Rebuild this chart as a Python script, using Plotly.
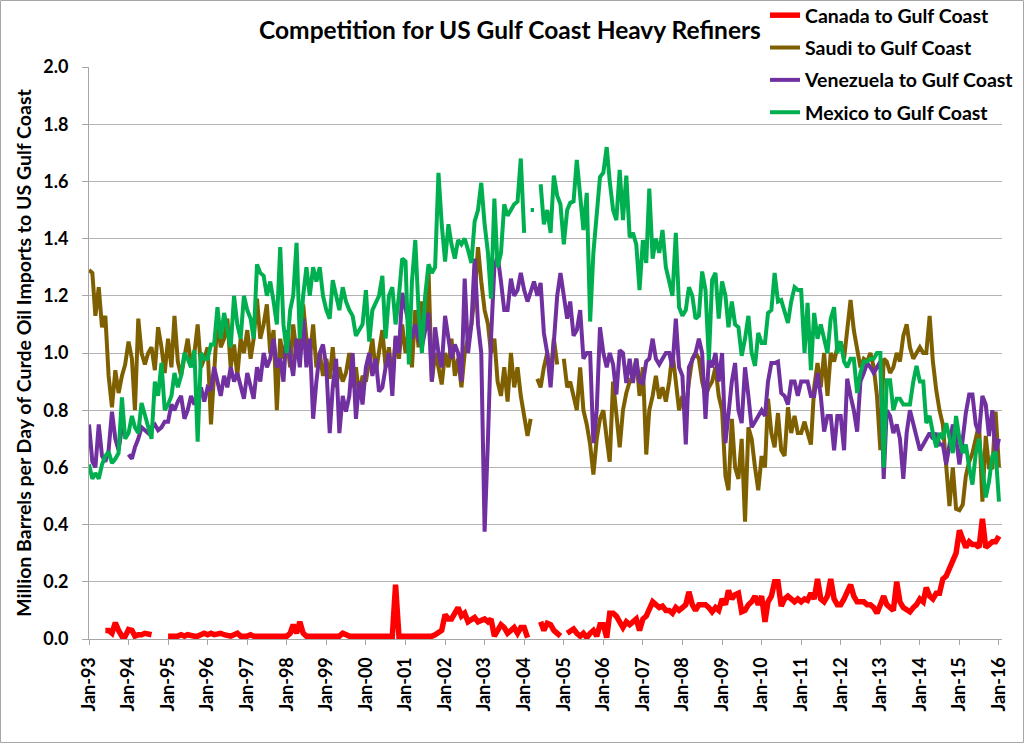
import pandas as pd
import plotly.graph_objects as go

# ---------------- data (million barrels per day, monthly Jan-93 .. Jan-16) ----------------
months = pd.date_range("1993-01-01", "2016-01-01", freq="MS")
tick_dates = pd.date_range("1993-01-01", "2016-01-01", freq="YS")
tick_labels = ["Jan-93", "Jan-94", "Jan-95", "Jan-96", "Jan-97", "Jan-98", "Jan-99", "Jan-00",
               "Jan-01", "Jan-02", "Jan-03", "Jan-04", "Jan-05", "Jan-06", "Jan-07", "Jan-08",
               "Jan-09", "Jan-10", "Jan-11", "Jan-12", "Jan-13", "Jan-14", "Jan-15", "Jan-16"]

N = None
canada = [
    N, N, N, N, N, 0.03, 0.03, 0.02, 0.057, 0.03, 0.01, 0.01,                 # 1993
    0.033, 0.03, 0.01, 0.015, 0.015, 0.02, 0.015, 0.015, N, N, N, N,         # 1994
    0.01, 0.01, 0.01, 0.01, 0.015, 0.01, 0.015, 0.01, 0.01, 0.01, 0.015, 0.02,  # 1995
    0.015, 0.02, 0.015, 0.02, 0.02, 0.015, 0.01, 0.01, 0.015, 0.02, 0.01, 0.01,  # 1996
    0.01, 0.015, 0.01, 0.01, 0.01, 0.01, 0.01, 0.01, 0.01, 0.01, 0.01, 0.01,  # 1997
    0.01, 0.02, 0.05, 0.02, 0.06, 0.02, 0.01, 0.01, 0.01, 0.01, 0.01, 0.01,   # 1998
    0.01, 0.01, 0.01, 0.01, 0.01, 0.02, 0.015, 0.01, 0.01, 0.01, 0.01, 0.01,  # 1999
    0.01, 0.01, 0.01, 0.01, 0.01, 0.01, 0.01, 0.01, 0.01, 0.19, 0.01, 0.01,   # 2000
    0.01, 0.01, 0.01, 0.01, 0.01, 0.01, 0.01, 0.01, 0.01, 0.015, 0.02, 0.03,  # 2001
    0.085, 0.07, 0.07, 0.09, 0.11, 0.08, 0.09, 0.06, 0.07, 0.075, 0.06, 0.065,  # 2002
    0.07, 0.06, 0.07, 0.01, 0.03, 0.05, 0.04, 0.02, 0.03, 0.04, 0.02, 0.04,   # 2003
    0.04, 0.005, N, N, N, 0.06, 0.03, 0.055, 0.05, 0.03, 0.02, 0.01,          # 2004
    N, 0.02, 0.03, 0.035, 0.02, 0.01, 0.02, 0.005, 0.02, 0.03, 0.01, 0.05,    # 2005
    0.05, 0.005, 0.09, 0.09, 0.08, 0.06, 0.04, 0.06, 0.05, 0.06, 0.07, 0.03,  # 2006
    0.07, 0.08, 0.11, 0.13, 0.12, 0.11, 0.115, 0.10, 0.10, 0.09, 0.11, 0.10,  # 2007
    0.11, 0.12, 0.165, 0.12, 0.10, 0.12, 0.12, 0.12, 0.11, 0.095, 0.11, 0.10,  # 2008
    0.14, 0.12, 0.17, 0.14, 0.155, 0.16, 0.095, 0.10, 0.12, 0.13, 0.15, 0.12,  # 2009
    0.15, 0.06, 0.13, 0.15, 0.20, 0.20, 0.115, 0.14, 0.15, 0.14, 0.13, 0.14,  # 2010
    0.13, 0.14, 0.135, 0.16, 0.14, 0.21, 0.14, 0.13, 0.15, 0.21, 0.14, 0.12,  # 2011
    0.12, 0.14, 0.16, 0.19, 0.15, 0.13, 0.13, 0.13, 0.12, 0.12, 0.11, 0.09,   # 2012
    0.12, 0.15, 0.12, 0.11, 0.10, 0.20, 0.13, 0.11, 0.10, 0.095, 0.11, 0.12,  # 2013
    0.14, 0.13, 0.18, 0.15, 0.14, 0.16, 0.16, 0.21, 0.22, 0.25, 0.27, 0.30,   # 2014
    0.38, 0.34, 0.32, 0.34, 0.33, 0.33, 0.32, 0.42, 0.32, 0.33, 0.34, 0.34,   # 2015
    0.36,                                                                      # 2016
]

saudi = [
    1.29, 1.28, 1.13, 1.23, 1.09, 1.13, 0.92, 0.81, 0.94, 0.86, 0.92, 0.96,
    1.04, 0.98, 0.80, 1.12, 1.00, 0.96, 1.00, 1.02, 0.94, 1.09, 1.02, 0.93,
    1.05, 0.95, 1.13, 0.97, 0.92, 0.98, 1.05, 0.96, 1.00, 1.10, 0.95, 0.98,
    1.02, 0.75, 0.95, 1.12, 1.02, 1.05, 1.12, 0.95, 1.03, 0.92, 1.05, 1.00,
    1.08, 0.98, 1.05, 1.19, 1.05, 1.10, 1.17, 1.00, 1.08, 0.80, 1.05, 0.98,
    1.05, 0.95, 1.10, 1.00, 1.05, 1.17, 1.05, 0.98, 1.10, 0.95, 1.00, 0.92,
    0.98, 0.91, 1.02, 0.88, 0.95, 0.90, 0.93, 1.00, 0.88, 0.95, 0.85, 0.92,
    0.90, 0.98, 1.05, 0.93, 1.00, 1.08, 0.95, 1.02, 0.90, 1.05, 0.98, 1.10,
    1.00, 1.08, 0.95, 1.15, 1.02, 1.18, 1.10, 1.29, 0.90, 1.00, 0.95, 0.89,
    1.00, 0.95, 1.05, 0.92, 0.98, 0.88, 1.00, 1.05, 1.10, 1.20, 1.37, 1.25,
    1.15, 1.10, 1.00, 1.05, 0.90, 0.85, 0.95, 0.83, 1.00, 0.88, 0.95, 0.85,
    0.78, 0.71, 0.77, N, 0.91, 0.88, 0.95, 1.00, 0.92, 1.05, 0.96, N,
    0.98, 0.88, 0.90, 0.85, 0.80, 0.95, 0.80, 0.75, 0.68, 0.575, 0.70, 0.77,
    0.80, 0.70, 0.62, 0.90, 0.78, 0.67, 0.80, 0.86, 0.90, 0.92, 0.98, 0.85,
    0.95, 0.645, 0.80, 0.85, 0.92, 0.84, 0.88, 0.83, 0.90, 1.00, 0.90, 0.80,
    0.85, 0.80, 0.90, 0.98, 1.00, 0.98, 0.90, 0.85, 0.88, 0.90, 0.95, 0.85,
    0.80, 0.57, 0.52, 0.77, 0.60, 0.56, 0.70, 0.41, 0.74, 0.70, 0.60, 0.52,
    0.64, 0.60, 0.84, 0.72, 0.67, 0.79, 0.66, 0.64, 0.81, 0.72, 0.78, 0.72,
    0.72, 0.76, 0.72, 0.68, 0.88, 0.965, 0.88, 1.00, 0.85, 1.00, 0.97, 1.02,
    1.04, 0.98, 1.08, 1.185, 1.08, 1.02, 0.95, 0.98, 0.97, 1.00, 0.95, 0.85,
    0.66, 0.98, 0.97, 0.93, 0.95, 1.00, 0.97, 1.06, 1.10, 1.02, 0.98, 1.00,
    1.02, 1.00, 1.00, 1.13, 0.97, 0.87, 0.80, 0.75, 0.605, 0.465, 0.60, 0.455,
    0.45, 0.47, 0.57, 0.62, 0.65, 0.70, 0.75, 0.48, 0.71, 0.60, 0.60, 0.795,
    0.60,
]

venezuela = [
    0.75, 0.62, 0.60, 0.75, 0.64, 0.62, 0.66, 0.795, 0.70, 0.66, 0.74, N,
    0.645, 0.63, 0.67, 0.70, 0.74, 0.73, 0.72, 0.74, 0.75, 0.73, 0.74, 0.76,
    0.76, 0.82, 0.80, 0.83, 0.85, 0.77, 0.80, 0.85, 0.82, 0.85, 0.88, 0.83,
    0.88, 0.87, 0.95, 0.90, 0.85, 0.92, 0.88, 0.95, 0.90, 0.93, 0.88, 0.84,
    0.93, 0.88, 0.84, 0.95, 0.90, 1.00, 0.95, 0.98, 1.05, 0.95, 0.98, 0.90,
    1.08, 0.98, 0.92, 1.05, 0.95, 1.12, 0.95, 1.05, 0.77, 0.90, 1.00, 1.03,
    0.95, 0.72, 0.88, 0.98, 0.72, 0.85, 0.795, 0.85, 1.00, 0.77, 0.90, 0.82,
    0.95, 1.00, 0.92, 0.98, 0.865, 0.88, 0.95, 1.00, 0.85, 1.06, 1.00, 1.21,
    1.15, 1.10, 1.05, 1.10, 1.05, 1.02, 1.08, 1.14, 0.90, 1.09, 1.00, 0.95,
    1.13, 1.05, 0.98, 1.03, 1.00, 0.90, 1.26, 1.00, 1.10, 1.33, 1.10, 1.00,
    0.375, 0.70, 1.05, 1.30, 1.34, 1.25, 1.15, 1.15, 1.26, 1.20, 1.22, 1.28,
    1.22, 1.18, 1.22, 1.25, 1.20, 1.245, 1.07, 1.00, 0.88, 1.05, 1.20, 1.28,
    1.20, 1.12, 1.18, 1.06, 1.08, 1.15, 0.98, 1.00, 1.00, 0.685, 0.80, 1.09,
    1.00, 0.95, 1.00, 0.96, 0.855, 1.01, 1.00, 0.895, 0.98, 0.895, 0.98, 0.90,
    0.895, 0.97, 0.98, 1.05, 0.98, 0.96, 0.98, 1.00, 1.00, 0.95, 1.12, 0.95,
    0.92, 0.68, 0.95, 0.98, 1.00, 1.05, 1.00, 0.77, 0.98, 0.95, 1.00, 0.90,
    1.00, 0.685, 0.80, 0.90, 0.965, 0.80, 0.755, 0.95, 0.85, 0.74, 0.76, 0.78,
    0.80, 0.78, 0.90, 0.965, 0.965, 0.97, 0.86, 0.85, 0.82, 0.90, 0.90, 0.85,
    0.90, 0.90, 0.90, 0.85, 0.85, 0.93, 0.85, 0.725, 0.78, 0.78, 0.66, 0.78,
    0.78, 0.66, 0.91, 0.85, 0.80, 0.725, 0.90, 0.93, 0.965, 0.95, 0.93, 0.95,
    0.97, 0.56, 0.80, 0.78, 0.72, 0.75, 0.70, 0.56, 0.72, 0.80, 0.75, 0.70,
    0.66, 0.68, 0.70, 0.72, 0.70, 0.72, 0.68, 0.68, 0.61, 0.68, 0.75, 0.70,
    0.61, 0.70, 0.79, 0.855, 0.855, 0.75, 0.72, 0.85, 0.82, 0.71, 0.80, 0.65,
    0.70,
]

mexico = [
    0.61, 0.56, 0.58, 0.56, 0.61, 0.64, 0.655, 0.615, 0.63, 0.65, 0.845, 0.70,
    0.72, 0.78, 0.74, 0.72, 0.825, 0.78, 0.75, 0.70, 0.90, 0.85, 0.965, 0.80,
    0.82, 0.85, 0.93, 0.88, 0.92, 1.00, 0.98, 0.95, 1.01, 0.69, 1.00, 0.98,
    0.98, 1.03, 1.03, 1.16, 1.05, 1.14, 1.08, 1.02, 1.20, 1.10, 1.05, 1.20,
    1.15, 1.12, 1.05, 1.31, 1.28, 1.27, 1.20, 1.25, 1.18, 1.10, 1.37, 1.10,
    1.00, 1.15, 1.20, 1.385, 1.05, 1.20, 1.30, 1.20, 1.30, 1.25, 1.30, 1.20,
    1.15, 1.12, 1.255, 1.20, 1.15, 1.23, 1.18, 1.15, 1.13, 1.06, 1.08, 1.10,
    1.22, 1.04, 1.15, 1.18, 1.20, 1.27, 1.05, 1.20, 1.23, 1.10, 1.20, 1.33,
    1.32, 0.96, 1.25, 1.395, 1.15, 1.00, 1.20, 1.31, 1.28, 1.30, 1.63, 1.45,
    1.32, 1.45, 1.38, 1.33, 1.395, 1.38, 1.40, 1.36, 1.315, 1.46, 1.50, 1.595,
    1.45, 1.35, 1.19, 1.54, 1.30, 1.35, 1.52, 1.48, 1.50, 1.52, 1.53, 1.68,
    1.42, N, 1.50, 1.50, N, 1.59, 1.45, 1.50, 1.42, 1.62, 1.55, 1.52,
    1.38, 1.50, 1.525, 1.53, 1.675, 1.55, 1.43, 1.56, 1.11, 1.35, 1.50, 1.615,
    1.63, 1.72, 1.60, 1.50, 1.465, 1.64, 1.465, 1.62, 1.405, 1.42, 1.38, 1.22,
    1.395, 1.315, 1.575, 1.33, 1.40, 1.35, 1.43, 1.30, 1.25, 1.20, 1.42, 1.16,
    1.13, 1.15, 1.23, 1.20, 1.12, 1.13, 1.285, 1.22, 0.975, 1.255, 1.28, 1.12,
    1.25, 1.20, 1.09, 1.18, 1.10, 1.09, 0.99, 1.05, 1.13, 1.00, 0.955, 1.07,
    1.035, 1.035, 1.14, 1.15, 1.28, 1.18, 1.185, 1.15, 1.105, 1.18, 1.23, 1.22,
    1.22, 1.00, 1.175, 0.94, 1.14, 1.05, 1.10, 1.05, 1.00, 1.12, 1.16, 1.00,
    1.04, 0.97, 0.95, 0.98, 0.98, 0.86, 0.93, 0.97, 0.97, 0.98, 0.98, 1.00,
    1.00, 0.60, 0.905, 0.905, 0.80, 0.84, 0.84, 0.82, 0.82, 0.82, 0.90, 0.955,
    0.90, 0.90, 0.755, 0.78, 0.72, 0.67, 0.72, 0.70, 0.755, 0.70, 0.65, 0.78,
    0.70, 0.65, 0.68, 0.60, 0.54, 0.65, 0.70, 0.60, 0.495, 0.55, 0.64, 0.655,
    0.48,
]

series_names = ["Canada to Gulf Coast", "Saudi to Gulf Coast",
                "Venezuela to Gulf Coast", "Mexico to Gulf Coast"]
series_values = [canada, saudi, venezuela, mexico]
series_colors = ["#FF0000", "#7F6000", "#7030A0", "#00B050"]
series_widths = [5.5, 4, 4, 4]

FONT = "Lato"

fig = go.Figure()
for name, vals, col, w in zip(series_names, series_values, series_colors, series_widths):
    fig.add_trace(go.Scatter(
        x=months, y=vals, name=name, mode="lines", legendgroup=name,
        line=dict(color=col, width=w), connectgaps=False,
    ))

# plot-area geometry in pixels
L, R, T, B = 89, 22, 67, 104
W, H = 1024, 743
pw, ph = W - L - R, H - T - B

def px_x(p):
    return (p - L) / pw

def px_y(p):
    return (H - B - p) / ph

fig.update_layout(
    width=W, height=H,
    margin=dict(l=L, r=R, t=T, b=B, pad=0, autoexpand=False),
    paper_bgcolor="white", plot_bgcolor="white",
    title=dict(text="Competition for US Gulf Coast Heavy Refiners",
               x=510 / W, xanchor="center", y=1 - 30 / H, yanchor="middle",
               font=dict(family=FONT, size=24.5, color="black", weight="bold")),
    legend=dict(x=px_x(765), xanchor="left", y=px_y(-4), yanchor="top",
                bgcolor="rgba(0,0,0,0)", tracegroupgap=4,
                font=dict(family=FONT, size=19.5, color="black", weight="bold")),
    xaxis=dict(type="date", range=["1993-01-01", "2016-01-29"],
               tickvals=tick_dates, ticktext=tick_labels, tickangle=-90,
               ticks="outside", ticklen=5, tickcolor="#A6A6A6",
               showline=True, linecolor="#A6A6A6", linewidth=1,
               showgrid=False, zeroline=False, ticklabelstandoff=5,
               automargin=False,
               tickfont=dict(family=FONT, size=18, color="black", weight="bold")),
    yaxis=dict(range=[0, 2], tick0=0, dtick=0.2, tickformat=".1f",
               showgrid=True, gridcolor="#B3B3B3", gridwidth=1,
               showline=True, linecolor="#A6A6A6", linewidth=1, zeroline=False,
               ticks="outside", ticklen=6, tickcolor="#A6A6A6", ticklabelstandoff=10,
               automargin=False,
               tickfont=dict(family=FONT, size=18, color="black", weight="bold"),
               title=dict(text="Million Barrels per Day of Curde Oil Imports to US Gulf Coast",
                          font=dict(family=FONT, size=19.5, color="black", weight="bold"),
                          standoff=6)),
    shapes=[dict(type="rect", xref="paper", yref="paper",
                 x0=px_x(0.5), x1=px_x(1023.5), y0=px_y(742.5), y1=px_y(0.5),
                 line=dict(color="#A6A6A6", width=1), fillcolor="rgba(0,0,0,0)",
                 layer="below")],
)

fig.write_html("out.html")
